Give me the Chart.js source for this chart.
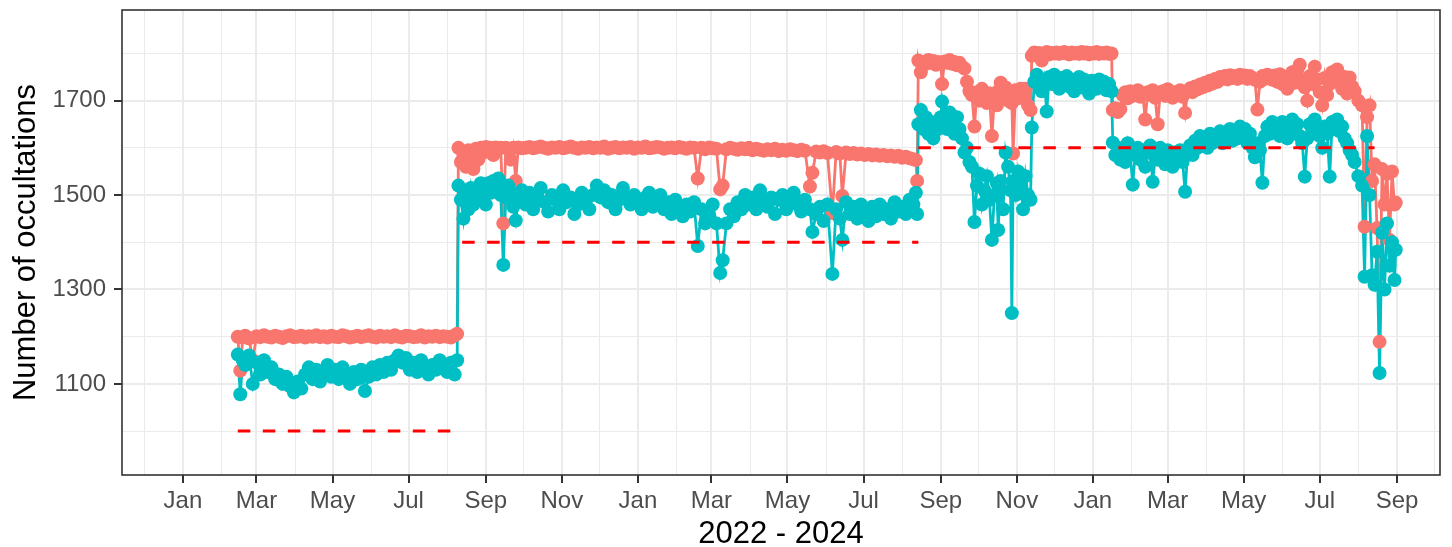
<!DOCTYPE html>
<html>
<head>
<meta charset="utf-8">
<script src="https://cdn.jsdelivr.net/npm/chart.js@4.4.1/dist/chart.umd.min.js"></script>
<style>
  html, body { margin: 0; padding: 0; background: #ffffff; }
  canvas { display: block; }
</style>
</head>
<body>
<canvas id="occChart" width="1452" height="547"></canvas>
<script>
// days counted from 2022-01-01
const dayIndex = [
  // Feb - Aug 2022
  44, 46, 48, 50, 53, 56, 59, 62, 65, 68, 71, 74, 77, 80, 83, 86, 89, 92, 95, 98,
  101, 104, 107, 110, 113, 116, 119, 122, 125, 128, 131, 134, 137, 140, 143, 146, 149, 152, 155, 158,
  161, 164, 167, 170, 173, 176, 179, 182, 185, 188, 191, 194, 197, 200, 203, 206, 209, 212, 215, 218, 220,
  // Aug 2022 - Aug 2023
  221, 223, 225, 227, 229, 231, 233, 235, 237, 239, 241, 243, 245, 247, 249, 251, 253, 255, 257, 259,
  261, 263, 265, 267, 269, 272,
  275, 278, 281, 284, 287, 290, 293, 296, 299, 302, 305, 308, 311, 314, 317, 320, 323, 326, 329, 332,
  335, 338, 341, 344, 347, 350, 353, 356, 359, 362, 365, 368, 371, 374, 377, 380, 383, 386, 389, 392,
  395, 398, 401, 404, 407, 410,
  413, 416, 419, 422, 425, 428, 431, 433, 436, 439, 442, 445, 448, 451, 454, 457, 460, 463, 466, 469,
  472, 475, 478, 481, 484, 487, 490, 493, 496, 499,
  503, 505, 508, 511, 514, 517, 521, 524, 527, 529, 532, 535, 538, 541, 544, 547, 550, 553, 556, 559,
  562, 565, 568, 571, 574, 577, 580, 583, 586, 588, 589,
  // Aug - Nov 2023
  590, 592, 594, 596, 598, 600, 602, 604, 606, 608, 609,
  611, 613, 615, 617, 619, 621, 623, 625, 627, 629, 631, 633,
  635, 637, 639, 641, 643, 645, 647, 649, 651, 653, 654,
  656, 658, 660, 662, 664, 665, 666, 668, 670, 672, 674, 676, 678, 680,
  // Nov 2023 - Jan 2024
  681, 683, 685, 687, 689, 691, 693, 695, 697, 699, 701, 703, 705, 707, 709, 711, 713, 715, 717, 719,
  721, 723, 725, 727, 729, 731, 733, 735, 737, 739, 741, 743, 745,
  // Jan - Sep 2024
  746, 748, 750, 752, 754, 756, 758, 760, 762, 764, 766, 768, 770, 772, 774, 776, 778, 780, 782, 784,
  786, 788, 790, 792, 794, 796, 798, 800, 802, 804, 806, 808, 810, 812, 814, 816, 818, 820, 822, 824,
  826, 828, 830, 832, 834, 836, 838, 840, 842, 844, 846, 848, 850, 852, 854, 856, 858, 860, 862, 864,
  866, 868, 870, 872, 874, 876, 878, 880, 882, 884, 886, 888, 890, 892, 894, 896, 898, 900, 902, 904,
  906, 908, 910, 912, 914, 916, 918, 920, 922, 924, 926, 928, 930, 932, 934, 936, 938, 940,
  943, 946, 948, 950, 952, 954, 956, 958, 960, 962, 964, 966, 968, 970, 972, 973
];

const totalOcc = [
  1200, 1128, 1198, 1202, 1196, 1150, 1201, 1199, 1203, 1200, 1198, 1202, 1200, 1197, 1201, 1203, 1199, 1200, 1202, 1198,
  1201, 1200, 1203, 1199, 1201, 1198, 1202, 1200, 1199, 1203, 1201, 1198, 1200, 1202, 1199, 1201, 1203, 1200, 1198, 1202,
  1200, 1201, 1199, 1203, 1200, 1198, 1202, 1201, 1199, 1200, 1203, 1198, 1201, 1200, 1202, 1199, 1201, 1200, 1198, 1203, 1206,

  1600, 1570, 1585, 1560, 1595, 1578, 1555, 1598, 1575, 1600, 1590, 1602, 1598, 1600, 1585, 1601, 1599, 1600, 1440, 1600,
  1598, 1575, 1600, 1530, 1601, 1599,
  1600, 1602, 1599, 1601, 1603, 1600, 1598, 1601, 1600, 1602, 1599, 1601, 1603, 1600, 1598, 1601, 1600, 1602, 1599, 1601,
  1600, 1603, 1598, 1600, 1602, 1599, 1601, 1600, 1602, 1598, 1601, 1600, 1603, 1599, 1600, 1602, 1601, 1598, 1600, 1601,
  1599, 1602, 1600, 1598, 1601, 1600,
  1535, 1600, 1597, 1601, 1599, 1598, 1512, 1520, 1597, 1600, 1598, 1596, 1599, 1597, 1600, 1595, 1598, 1596, 1594, 1597,
  1595, 1598, 1593, 1596, 1594, 1597, 1595, 1593, 1596, 1594,
  1518, 1547, 1592, 1590, 1593, 1589, 1462, 1591, 1588, 1498, 1590, 1587, 1589, 1586, 1588, 1585, 1587, 1584, 1586, 1583,
  1585, 1582, 1584, 1581, 1583, 1579, 1581, 1578, 1576, 1574, 1530,

  1785, 1760, 1782, 1778, 1786, 1780, 1784, 1776, 1782, 1779, 1735,
  1783, 1780, 1786, 1778, 1782, 1775, 1780, 1772, 1768, 1740, 1720, 1712,
  1645, 1718, 1700, 1725, 1710, 1695, 1715, 1625, 1705, 1690, 1720,
  1738, 1715, 1728, 1700, 1715, 1695, 1588, 1722, 1705, 1725, 1710, 1725, 1690, 1680,

  1795, 1802, 1799, 1801, 1785, 1800, 1803, 1798, 1801, 1800, 1802, 1799, 1801, 1803, 1800, 1798, 1802, 1800, 1801, 1799,
  1803, 1800, 1802, 1798, 1801, 1800, 1803, 1799, 1801, 1800, 1802, 1799, 1800,

  1680, 1684, 1676, 1682, 1712, 1718, 1705, 1720, 1710, 1716, 1722, 1708, 1715, 1660, 1718, 1712, 1722, 1706, 1650, 1716,
  1720, 1710, 1724, 1714, 1706, 1718, 1712, 1722, 1708, 1674, 1720, 1726, 1718, 1730, 1724, 1734, 1728, 1738, 1732, 1742,
  1736, 1746, 1740, 1750, 1746, 1752, 1745, 1754, 1748, 1752, 1746, 1755, 1749, 1753, 1746, 1752, 1748, 1744, 1681, 1740,
  1752, 1746, 1755, 1749, 1744, 1753, 1740, 1756, 1735, 1748, 1725, 1745, 1760, 1738, 1765, 1776, 1742, 1728, 1700, 1752,
  1735, 1772, 1745, 1718, 1690, 1748, 1712, 1735, 1760, 1745, 1766, 1738, 1725, 1750, 1715, 1749, 1730, 1720,
  1700, 1690, 1433, 1665, 1690, 1530, 1565, 1430, 1189, 1555, 1480, 1545, 1405, 1550, 1480, 1484
];

const usedOcc = [
  1162, 1078, 1150, 1140, 1160, 1100, 1145, 1120, 1150, 1125, 1135, 1110, 1120, 1100, 1115, 1095, 1082, 1105, 1090, 1120,
  1135, 1110, 1130, 1105, 1125, 1140, 1115, 1130, 1110, 1135, 1120, 1100, 1125, 1110, 1130, 1085, 1115, 1135, 1120, 1140,
  1125, 1145, 1130, 1150, 1160, 1145, 1155, 1130, 1145, 1125, 1150, 1135, 1120, 1140, 1130, 1150, 1135, 1125, 1145, 1120, 1150,

  1520, 1490, 1450, 1505, 1470, 1515, 1480, 1510, 1495, 1525, 1500, 1480, 1525, 1505, 1530, 1510, 1535, 1500, 1352, 1495,
  1520, 1505, 1475, 1446, 1490, 1510,
  1480, 1505, 1470, 1495, 1515, 1485, 1465, 1500, 1490, 1470, 1510, 1485, 1495, 1460, 1480, 1505, 1490, 1470, 1500, 1520,
  1495, 1510, 1485, 1500, 1470, 1490, 1515, 1495, 1480, 1500, 1485, 1470, 1495, 1505, 1475, 1490, 1500, 1470, 1485, 1460,
  1490, 1475, 1455, 1480, 1465, 1485,
  1392, 1470, 1440, 1455, 1480, 1440, 1335, 1362, 1440, 1470, 1455, 1485, 1470, 1500, 1480, 1495, 1470, 1510, 1485, 1475,
  1495, 1460, 1490, 1500, 1470, 1485, 1505, 1480, 1465, 1490,
  1470, 1422, 1460, 1475, 1445, 1480, 1333, 1470, 1450, 1405, 1485, 1460, 1475, 1450, 1480, 1465, 1445, 1475, 1455, 1480,
  1460, 1470, 1450, 1485, 1465, 1475, 1460, 1490, 1480, 1505, 1460,

  1650, 1680, 1640, 1665, 1630, 1655, 1620, 1650, 1640, 1665, 1698,
  1660, 1640, 1675, 1650, 1630, 1665, 1640, 1620, 1590, 1600, 1570, 1560,
  1443, 1520, 1545, 1480, 1510, 1540, 1490, 1405, 1500, 1525, 1426,
  1530, 1470, 1590, 1560, 1510, 1250, 1530, 1500, 1550, 1520, 1470, 1540, 1500, 1490,

  1643, 1740, 1755, 1730, 1720, 1745, 1677, 1750, 1735, 1755, 1740, 1725, 1748, 1735, 1752, 1730, 1745, 1720, 1740, 1750,
  1728, 1745, 1735, 1715, 1742, 1738, 1725, 1745, 1730, 1740, 1722, 1735, 1720,

  1611, 1585, 1600, 1575, 1595, 1570, 1610, 1585, 1522, 1590, 1600, 1575, 1595, 1560, 1590, 1605, 1528, 1580, 1575, 1600,
  1585, 1565, 1595, 1580, 1560, 1590, 1575, 1595, 1570, 1507, 1590, 1605, 1585, 1615, 1600, 1625, 1605, 1620, 1600, 1630,
  1610, 1625, 1615, 1635, 1610, 1630, 1620, 1640, 1615, 1635, 1620, 1645, 1625, 1640, 1610, 1630, 1600, 1580, 1610, 1595,
  1526, 1625, 1645, 1630, 1655, 1635, 1650, 1625, 1655, 1640, 1620, 1650, 1660, 1635, 1650, 1625, 1610, 1539, 1620, 1650,
  1635, 1660, 1640, 1625, 1600, 1645, 1630, 1539, 1655, 1640, 1660, 1635, 1645, 1620, 1610, 1595, 1585, 1570,
  1540, 1520, 1327, 1625, 1500, 1330, 1310, 1380, 1123, 1420, 1300, 1440, 1350, 1400, 1320, 1384
];

// dashed target levels
const targetStart = [44, 224, 590];
const targetEnd = [224, 590, 956];
const targetLevel = [1000, 1400, 1600];

const monthNames = ["Jan", "Feb", "Mar", "Apr", "May", "Jun", "Jul", "Aug", "Sep", "Oct", "Nov", "Dec"];
const yTickValues = [1000, 1100, 1200, 1300, 1400, 1500, 1600, 1700, 1800];
const yLabelValues = [1100, 1300, 1500, 1700];

const DAY = 86400000;
const origin = Date.UTC(2022, 0, 1);

// month starts from Dec 2021 to Oct 2024, label every other month
const monthTicks = [];
for (let i = 0; i <= 34; i++) {
  const m = 11 + i;
  const d = Math.round((Date.UTC(2021, m, 1) - origin) / DAY);
  const mi = m % 12;
  monthTicks.push({ day: d, label: mi % 2 === 0 ? monthNames[mi] : "", major: mi % 2 === 0 });
}
const xLabelByDay = {};
for (let t of monthTicks) xLabelByDay[t.day] = t;

const redColor = "#F8766D";
const tealColor = "#00BFC4";

const redPoints = dayIndex.map((d, i) => ({ x: d, y: totalOcc[i] }));
const tealPoints = dayIndex.map((d, i) => ({ x: d, y: usedOcc[i] }));

// lines first, then points (red under teal), dashed targets on top
const datasets = [
  { data: redPoints, borderColor: redColor, borderWidth: 2.8, pointRadius: 0, order: 5 },
  { data: tealPoints, borderColor: tealColor, borderWidth: 2.8, pointRadius: 0, order: 4 },
  { data: redPoints, showLine: false, pointRadius: 7, pointBackgroundColor: redColor, pointBorderWidth: 0, order: 3 },
  { data: tealPoints, showLine: false, pointRadius: 7, pointBackgroundColor: tealColor, pointBorderWidth: 0, order: 2 },
];
for (let k = 0; k < targetLevel.length; k++) {
  datasets.push({
    data: [{ x: targetStart[k], y: targetLevel[k] }, { x: targetEnd[k], y: targetLevel[k] }],
    borderColor: "#FF0000",
    borderWidth: 3,
    borderDash: [12.5, 12.5],
    pointRadius: 0,
    order: 1,
  });
}

// panel border drawn over everything
const panelBorder = {
  id: "panelBorder",
  afterDraw(chart) {
    const { ctx, chartArea } = chart;
    ctx.save();
    ctx.strokeStyle = "#333333";
    ctx.lineWidth = 1.6;
    ctx.strokeRect(chartArea.left, chartArea.top, chartArea.right - chartArea.left, chartArea.bottom - chartArea.top);
    ctx.restore();
  },
};

Chart.defaults.font.family = "'Liberation Sans', Arial, Helvetica, sans-serif";

const occCtx = document.getElementById("occChart").getContext("2d");

const occChart = new Chart(occCtx, {
  type: "line",
  data: { datasets: datasets },
  plugins: [panelBorder],
  options: {
    responsive: false,
    animation: false,
    devicePixelRatio: 1,
    layout: { padding: { top: 10, right: 12, left: 0, bottom: 0 } },
    elements: { line: { tension: 0 } },
    plugins: { legend: { display: false }, tooltip: { enabled: false } },
    scales: {
      x: {
        type: "linear",
        min: -48.9,
        max: 1008.5,
        afterBuildTicks: (scale) => {
          scale.ticks = monthTicks.map((t) => ({ value: t.day }));
        },
        afterFit: (scale) => {
          scale.height = 72;
          scale.paddingLeft = 0;
          scale.paddingRight = 0;
        },
        ticks: {
          autoSkip: false,
          maxRotation: 0,
          padding: 4,
          color: "#4D4D4D",
          font: { size: 24 },
          callback: (value) => (xLabelByDay[value] ? xLabelByDay[value].label : ""),
        },
        grid: {
          color: "#EBEBEB",
          lineWidth: (c) => (c.tick && xLabelByDay[c.tick.value] && xLabelByDay[c.tick.value].major ? 2 : 1),
          tickLength: 8,
          tickWidth: 2,
          tickColor: (c) => (c.tick && xLabelByDay[c.tick.value] && xLabelByDay[c.tick.value].major ? "#333333" : "rgba(0,0,0,0)"),
        },
        border: { display: false },
        title: {
          display: true,
          text: "2022 - 2024",
          color: "#000000",
          font: { size: 31, lineHeight: 0.8 },
          padding: { top: 0, bottom: 0 },
        },
      },
      y: {
        type: "linear",
        min: 907,
        max: 1892,
        afterBuildTicks: (scale) => {
          scale.ticks = yTickValues.map((v) => ({ value: v }));
        },
        afterFit: (scale) => {
          scale.width = 122;
          scale.paddingTop = 0;
          scale.paddingBottom = 0;
        },
        ticks: {
          autoSkip: false,
          padding: 8,
          color: "#4D4D4D",
          font: { size: 24 },
          callback: (value) => (yLabelValues.includes(value) ? String(value) : ""),
        },
        grid: {
          color: "#EBEBEB",
          lineWidth: (c) => (c.tick && yLabelValues.includes(c.tick.value) ? 2 : 1),
          tickLength: 8,
          tickWidth: 2,
          tickColor: (c) => (c.tick && yLabelValues.includes(c.tick.value) ? "#333333" : "rgba(0,0,0,0)"),
        },
        border: { display: false },
        title: {
          display: true,
          text: "Number of occultations",
          color: "#000000",
          font: { size: 31 },
          padding: { top: 8, bottom: 0 },
        },
      },
    },
  },
});
</script>
</body>
</html>
